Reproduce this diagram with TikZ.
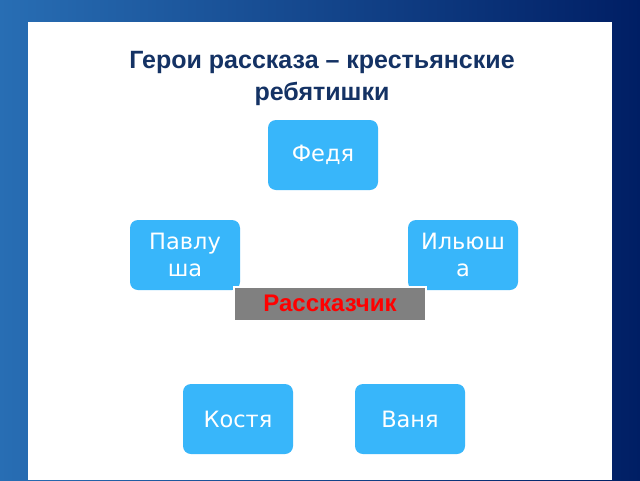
\documentclass[tikz,border=0pt]{standalone}
\usepackage{fontspec}
\setmainfont{Liberation Sans}
\newfontfamily\boxfont{DejaVu Sans}
\definecolor{navy}{RGB}{0,30,100}
\definecolor{glow}{RGB}{40,110,180}
\definecolor{titleblue}{RGB}{20,50,100}
\definecolor{heroblue}{RGB}{56,182,250}
\definecolor{narrgray}{RGB}{128,128,128}
\tikzset{
  hero/.style={fill=heroblue, rounded corners=8pt, minimum width=110pt, minimum height=70pt,
    text=white, align=center, text width=104pt, font=\boxfont\fontsize{22.5}{27}\selectfont, inner sep=0pt},
  narrator/.style={fill=narrgray, draw=white, line width=1.5pt, minimum width=192pt, minimum height=34pt,
    text=red, font=\bfseries\fontsize{24}{28}\selectfont, inner sep=0pt}
}
\begin{document}
\begin{tikzpicture}[x=1pt,y=-1pt]
\useasboundingbox (0,0) rectangle (640,480);
\shade[left color=glow, right color=navy] (0,0) rectangle (640,480);
\fill[white] (28,22) rectangle (612,480);
\node (title) at (322,78) [text=titleblue, align=center, font=\bfseries\fontsize{25}{32}\selectfont] {Герои рассказа – крестьянские\\ребятишки};
\node[hero] (fedya) at (323,155) {Федя};
\node[hero] (pavlusha) at (185,255) {Павлу\\ша};
\node[hero] (ilyusha) at (463,255) {Ильюш\\а};
\node[narrator] (narr) at (330,304) {\raisebox{2pt}{Рассказчик}};
\node[hero] (kostya) at (238,419) {Костя};
\node[hero] (vanya) at (410,419) {Ваня};
\end{tikzpicture}
\end{document}
